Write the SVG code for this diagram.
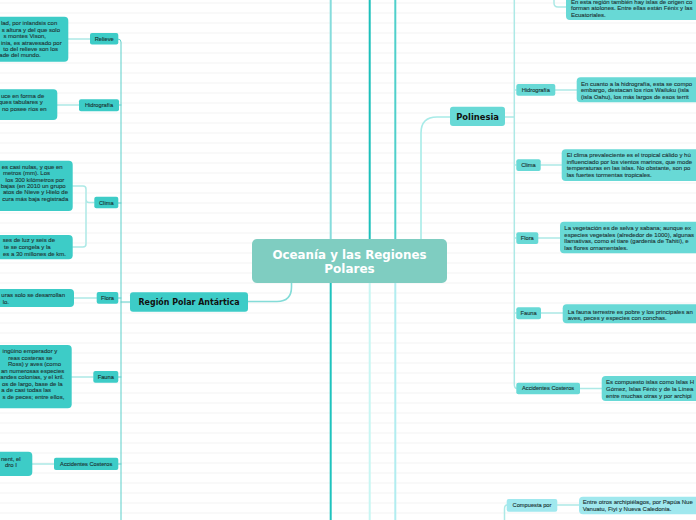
<svg xmlns="http://www.w3.org/2000/svg" width="696" height="520" viewBox="0 0 696 520">
<defs>
<pattern id="bg" width="10" height="10" patternUnits="userSpaceOnUse" y="2.5"><rect width="10" height="10" fill="#ffffff"/><rect width="10" height="1" fill="#f2f3f3"/></pattern>
</defs>
<style>
.t{font-family:"Liberation Sans",Arial,sans-serif;font-size:6px;fill:#1e3636;stroke:#1e3636;stroke-width:0.12px}
.e{text-anchor:end}
.lbl{font-family:"Liberation Sans",Arial,sans-serif;font-size:5.7px;fill:#1a3232;stroke:#1a3232;stroke-width:0.12px;text-anchor:middle}
.hd{font-family:"DejaVu Sans",Verdana,sans-serif;font-weight:bold;fill:#111;text-anchor:middle}
.L{fill:#3dccc7}
.R{fill:#68d9d6}
.P{fill:#a0e8ee}
.c{fill:none;stroke-linecap:round;stroke-linejoin:round}
.pale{stroke:#ade9e6;stroke-width:1.5}
.sp{stroke:#5ccfca;stroke-width:1}
</style>
<rect width="696" height="520" fill="url(#bg)"/>
<g id="connectors">
<line x1="330.7" y1="0" x2="330.7" y2="240" stroke="#86dcdc" stroke-width="2"/>
<line x1="330.7" y1="282" x2="330.7" y2="520" stroke="#1fc3be" stroke-width="2"/>
<line x1="369.7" y1="0" x2="369.7" y2="240" stroke="#1cc0bb" stroke-width="2"/>
<line x1="369.7" y1="282" x2="369.7" y2="520" stroke="#c8f6f3" stroke-width="2"/>
<line x1="395.3" y1="0" x2="395.3" y2="240" stroke="#4fd0cb" stroke-width="2"/>
<line x1="395.3" y1="282" x2="395.3" y2="520" stroke="#b2edf0" stroke-width="2"/>
<path class="c" d="M291.5,283 V287 Q291.5,301.5 277,301.5 H248" stroke="#84dcd8" stroke-width="1.6"/>
<path class="c" d="M421,240 V133 Q421,117 437,117 H450" stroke="#a8ebe8" stroke-width="1.6"/>
<path class="c sp" d="M118,39 Q121,39 121,42 V520"/>
<path class="c sp" d="M118,105 H121 M118,203 H121 M118,298 H121 M118,377 H121 M118,464 H121 M121,302 H130"/>
<path class="c pale" d="M68,39 H90 M57,105 H79 M94,202.5 H89 Q86,202.5 86,199.5 V189 Q86,186 83,186 H72.7 M86,199.5 V244 Q86,247 83,247 H72.7 M74,298 H97 M71.7,377 H93 M32,464 H54"/>
<path class="c pale" d="M514.3,0 V384 Q514.3,388.5 517,388.5 M505,117 H514.3 M514.3,90 H516 M514.3,165 H516 M514.3,238 H516 M514.3,313 H516"/>
<path class="c pale" d="M554,0 V3 Q554,7 558,7 H566 M555.3,90 H577 M540.7,165 H561.7 M538.3,238 H560 M541,313 H562.7 M580,388.5 H601.7 M557.3,505 H579 M504.5,520 V509 Q504.5,505 507,505"/>
</g>
<g id="center">
<rect x="252" y="239" width="195" height="44" rx="5" fill="#7fcdc1"/>
<text class="hd" x="349.5" y="258.5" font-size="12" style="fill:#fff" textLength="154" lengthAdjust="spacingAndGlyphs">Oceanía y las Regiones</text>
<text class="hd" x="349.5" y="272.5" font-size="12" style="fill:#fff">Polares</text>
</g>
<g id="region-polar-antartica">
<rect class="L" x="130" y="292.3" width="118" height="19.4" rx="3"/>
<text class="hd" x="189" y="305" font-size="8.4" textLength="101" lengthAdjust="spacingAndGlyphs">Región Polar Antártica</text>
</g>
<g id="a-relieve">
<rect class="L" x="90" y="33" width="28.3" height="11.5" rx="2"/>
<text class="lbl" x="104.2" y="40.8">Relieve</text>
<rect class="L" x="-10" y="16.7" width="78.3" height="45" rx="4"/>
<text class="t e" x="57.3" y="25.3">lad, por inlandsis con</text>
<text class="t e" x="60" y="31.6">s altura y del que solo</text>
<text class="t e" x="46" y="37.9">s montes Vison,</text>
<text class="t e" x="61.7" y="44.5">inia, es atravesado por</text>
<text class="t e" x="58" y="50.9">to del relieve son los</text>
<text class="t e" x="40.7" y="57.3">ade del mundo.</text>
</g>
<g id="a-hidrografia">
<rect class="L" x="79" y="99.3" width="40" height="12" rx="2"/>
<text class="lbl" x="99" y="107.3">Hidrografía</text>
<rect class="L" x="-10" y="89.3" width="67.3" height="30.7" rx="4"/>
<text class="t e" x="44.3" y="97.7">uce en forma de</text>
<text class="t e" x="42.7" y="104">ques tabulares y</text>
<text class="t e" x="46.7" y="110.6">no posee ríos en</text>
</g>
<g id="a-clima">
<rect class="L" x="94.3" y="196.7" width="24" height="11.6" rx="2"/>
<text class="lbl" x="106.3" y="204.5">Clima</text>
<rect class="L" x="-10" y="160.7" width="82.7" height="50.3" rx="4"/>
<text class="t e" x="62.7" y="169.3">es casi nulas, y que en</text>
<text class="t e" x="50" y="175.3">metros (mm). Los</text>
<text class="t e" x="64.3" y="181.5">los 300 kilómetros por</text>
<text class="t e" x="65.7" y="187.8">bajas (en 2010 un grupo</text>
<text class="t e" x="68" y="194.3">atos de Nieve y Hielo de</text>
<text class="t e" x="68.3" y="200.9">cura más baja registrada</text>
<rect class="L" x="-10" y="235" width="82.7" height="24.3" rx="4"/>
<text class="t e" x="55" y="242">ses de luz y seis de</text>
<text class="t e" x="50.7" y="249.2">te se congela y la</text>
<text class="t e" x="66" y="256.2">es a 30 millones de km.</text>
</g>
<g id="a-flora">
<rect class="L" x="96.7" y="292" width="21.6" height="11.7" rx="2"/>
<text class="lbl" x="107.5" y="299.8">Flora</text>
<rect class="L" x="-10" y="289" width="84" height="18" rx="4"/>
<text class="t e" x="65" y="297.3">uras solo se desarrollan</text>
<text class="t e" x="9" y="304.3">lo.</text>
</g>
<g id="a-fauna">
<rect class="L" x="93.3" y="371" width="25" height="11.7" rx="2"/>
<text class="lbl" x="105.8" y="378.8">Fauna</text>
<rect class="L" x="-10" y="345" width="81.7" height="63.3" rx="4"/>
<text class="t e" x="57.3" y="353">ingüino emperador y</text>
<text class="t e" x="52.3" y="359.6">reas costeras se</text>
<text class="t e" x="61" y="366.2">Ross) y aves (como</text>
<text class="t e" x="64.3" y="372.5">an numerosas especies</text>
<text class="t e" x="64" y="379.2">andes colonias, y el kril.</text>
<text class="t e" x="62.7" y="385.7">os de largo, base de la</text>
<text class="t e" x="51" y="392.2">a de casi todas las</text>
<text class="t e" x="64.3" y="398.9">s de peces; entre ellos,</text>
</g>
<g id="a-accidentes-costeros">
<rect class="L" x="54" y="457.7" width="64.3" height="12.3" rx="2"/>
<text class="lbl" x="86.2" y="465.8">Accidentes Costeros</text>
<rect class="L" x="-10" y="451.7" width="42.3" height="24.3" rx="4"/>
<text class="t e" x="20.7" y="460.8">nent, el</text>
<text class="t e" x="17" y="466.5">dro I</text>
</g>
<g id="polinesia">
<rect class="R" x="450" y="106.7" width="55" height="19.3" rx="3"/>
<text class="hd" x="477.6" y="119.8" font-size="8.4">Polinesia</text>
</g>
<g id="p-relieve-texto">
<rect class="R" x="566" y="-10" width="150" height="30" rx="4"/>
<text class="t" x="571" y="4.3">En esta región también hay islas de origen co</text>
<text class="t" x="571" y="10.3">forman atolones. Entre ellas están Fénix y las</text>
<text class="t" x="571" y="16.6">Ecuatoriales.</text>
</g>
<g id="p-hidrografia">
<rect class="R" x="516.3" y="84" width="39" height="11.7" rx="2"/>
<text class="lbl" x="535.8" y="91.8">Hidrografía</text>
<rect class="R" x="576.7" y="77.3" width="140" height="25" rx="4"/>
<text class="t" x="581" y="86">En cuanto a la hidrografía, esta se compo</text>
<text class="t" x="581" y="92.3">embargo, destacan los ríos Wailuku (isla</text>
<text class="t" x="581" y="98.8">(isla Oahu), los más largos de esos territ</text>
</g>
<g id="p-clima">
<rect class="R" x="516.3" y="159.3" width="24.4" height="11.7" rx="2"/>
<text class="lbl" x="528.5" y="167.1">Clima</text>
<rect class="R" x="561.7" y="149.3" width="150" height="31.7" rx="4"/>
<text class="t" x="566.7" y="157.3">El clima prevaleciente es el tropical cálido y hú</text>
<text class="t" x="566.7" y="163.7">influenciado por los vientos marinos, que mode</text>
<text class="t" x="566.7" y="170.3">temperaturas en las islas. No obstante, son po</text>
<text class="t" x="566.7" y="177">las fuertes tormentas tropicales.</text>
</g>
<g id="p-flora">
<rect class="R" x="516.3" y="232.3" width="22" height="11.7" rx="2"/>
<text class="lbl" x="527.3" y="240.1">Flora</text>
<rect class="R" x="560" y="221.7" width="150" height="31.6" rx="4"/>
<text class="t" x="564.3" y="230.3">La vegetación es de selva y sabana; aunque ex</text>
<text class="t" x="564.3" y="236.7">especies vegetales (alrededor de 1000), algunas</text>
<text class="t" x="564.3" y="243">llamativas, como el tiare (gardenia de Tahití), e</text>
<text class="t" x="564.3" y="250">las flores ornamentales.</text>
</g>
<g id="p-fauna">
<rect class="R" x="516.3" y="307.3" width="24.7" height="12" rx="2"/>
<text class="lbl" x="528.6" y="315.2">Fauna</text>
<rect class="R" x="562.7" y="304.3" width="150" height="19" rx="4"/>
<text class="t" x="567.7" y="313.5">La fauna terrestre es pobre y los principales an</text>
<text class="t" x="567.7" y="319.9">aves, peces y especies con conchas.</text>
</g>
<g id="p-accidentes-costeros">
<rect class="R" x="516.3" y="382.7" width="63.7" height="11.5" rx="2"/>
<text class="lbl" x="548.1" y="390.4">Accidentes Costeros</text>
<rect class="R" x="601.7" y="376" width="110" height="25" rx="4"/>
<text class="t" x="606" y="384">Es compuesto islas como Islas H</text>
<text class="t" x="606" y="390.5">Gómez, Islas Fénix y de la Línea</text>
<text class="t" x="606" y="397.5">entre muchas otras y por archipi</text>
</g>
<g id="compuesta-por">
<rect class="P" x="506.7" y="499" width="50.6" height="12.7" rx="2"/>
<text class="lbl" x="532" y="507.3">Compuesta por</text>
<rect class="P" x="579" y="496.7" width="140" height="17.6" rx="4"/>
<text class="t" x="582.7" y="503.6">Entre otros archipiélagos, por Papúa Nue</text>
<text class="t" x="582.7" y="510.6">Vanuatu, Fiyi y Nueva Caledonia.</text>
</g>
</svg>
